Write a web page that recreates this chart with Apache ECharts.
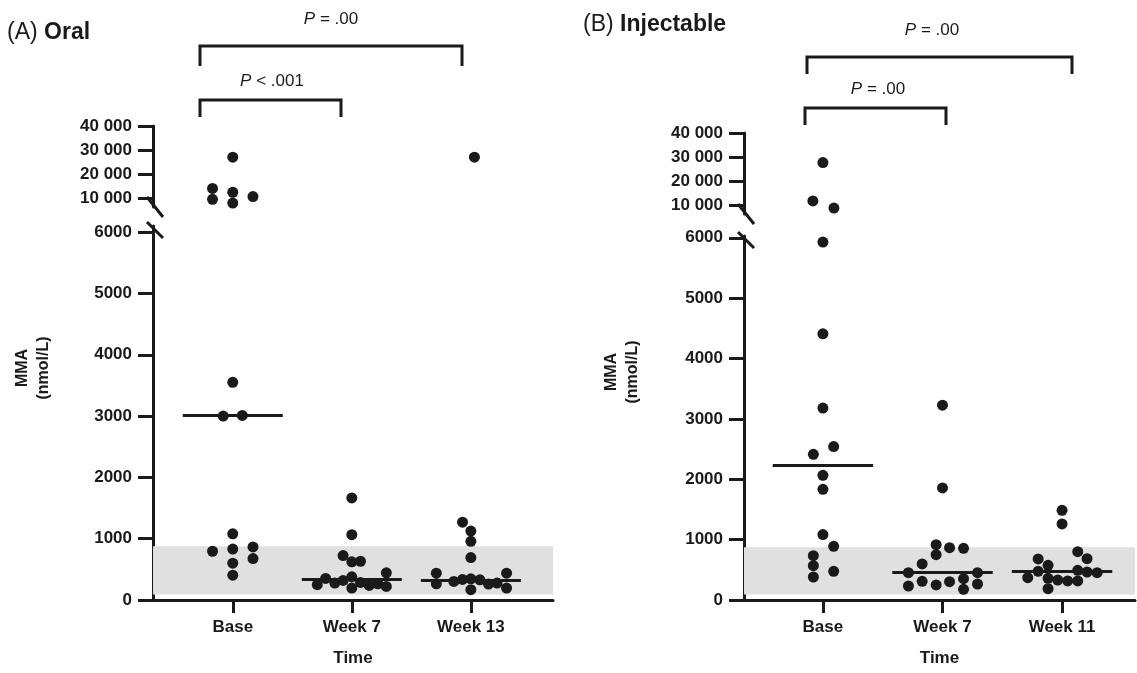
<!DOCTYPE html>
<html>
<head>
<meta charset="utf-8">
<title>MMA by time</title>
<script src="https://cdn.jsdelivr.net/npm/echarts@6/dist/echarts.min.js"></script>
<style>
  html, body { margin: 0; background: #fff; }
  #chart { width: 1137px; height: 673px; }
</style>
</head>
<body>
<div id="chart"></div>
<script>
// (A) Oral -- points are [jittered position, MMA nmol/L]
const oralCategories = ['Base', 'Week 7', 'Week 13'];
const oralBase = [
  [1, 27000], [0.83, 14000], [0.83, 9450], [1, 12400], [1, 7900], [1.17, 10600],
  [1, 3550], [0.92, 3000], [1.08, 3010], [1, 1080], [0.83, 795], [1, 830],
  [1.17, 865], [1, 600], [1.17, 676], [1, 405]
];
const oralWeek7 = [
  [2, 1665], [2, 1065], [1.927, 724], [2, 622], [2.073, 632], [1.78, 351],
  [1.71, 249], [1.857, 276], [1.927, 319], [2, 378], [2, 195], [2.073, 286],
  [2.146, 238], [2.218, 265], [2.29, 443], [2.29, 222]
];
const oralWeek13 = [
  [3.03, 27000], [2.93, 1270], [3, 1124], [3, 957], [3, 692], [2.71, 438],
  [2.71, 265], [2.857, 303], [2.93, 335], [3, 346], [3, 168], [3.076, 330],
  [3.148, 259], [3.22, 276], [3.3, 438], [3.3, 195]
];
const oralMedians = [3020, 335, 330];

// (B) Injectable
const injCategories = ['Base', 'Week 7', 'Week 11'];
const injBase = [
  [1, 27700], [0.916, 11700], [1.092, 8700], [1, 5930], [1, 4410], [1, 3180],
  [1.09, 2541], [0.92, 2414], [1, 2066], [1, 1834], [1, 1083], [1.09, 890],
  [0.92, 735], [0.92, 569], [1.09, 475], [0.92, 381]
];
const injWeek7 = [
  [2, 3227], [2, 1856], [1.947, 917], [2.059, 867], [2.176, 856], [1.947, 751],
  [1.83, 597], [1.715, 453], [2.293, 453], [1.83, 309], [1.715, 232], [1.947, 249],
  [2.059, 304], [2.176, 354], [2.293, 265], [2.176, 177]
];
const injWeek11 = [
  [3, 1486], [3, 1260], [2.8, 680], [3.131, 801], [3.209, 685], [2.883, 575],
  [2.8, 475], [3.131, 492], [3.209, 464], [3.293, 453], [2.713, 370], [2.883, 359],
  [2.964, 331], [3.047, 315], [3.131, 315], [2.883, 188]
];
const injMedians = [2240, 464, 475];

// reference range band and axis ticks
const normalRange = [90, 875];
const upperTicks = [10000, 20000, 30000, 40000];
const lowerTicks = [0, 1000, 2000, 3000, 4000, 5000, 6000];
const breakAt = 7000; // values above this go on the upper (compressed) segment

const FONT = '"Liberation Sans", Arial, Helvetica, sans-serif';
const INK = '#1a1a1a';

const panels = [
  { cats: oralCategories, groups: [oralBase, oralWeek7, oralWeek13], medians: oralMedians,
    left: 153, width: 400, xMin: 0.33, xMax: 3.69, upperTop: 126, lowerTop: 226, lowerMax: 6100 },
  { cats: injCategories, groups: [injBase, injWeek7, injWeek11], medians: injMedians,
    left: 744, width: 391, xMin: 0.34, xMax: 3.61, upperTop: 133, lowerTop: 236, lowerMax: 6030 }
];

function fmt(v) {
  return v >= 10000 ? String(v).replace(/\B(?=(\d{3})+(?!\d))/g, ' ') : String(v);
}

const grid = [], xAxis = [], yAxis = [], series = [];
const axisLine = { lineStyle: { color: INK, width: 3 } };
const tickStyle = { lineStyle: { color: INK, width: 3 } };
const labelStyle = { color: INK, fontFamily: FONT, fontWeight: 'bold', fontSize: 17 };

panels.forEach((p, i) => {
  const up = i * 2, lo = i * 2 + 1;
  grid.push({ left: p.left, top: p.upperTop, width: p.width, height: 81 });
  grid.push({ left: p.left, top: p.lowerTop, width: p.width, height: 600 - p.lowerTop });

  xAxis.push({ gridIndex: up, type: 'value', min: p.xMin, max: p.xMax, show: false });
  xAxis.push({
    gridIndex: lo, type: 'value', min: p.xMin, max: p.xMax,
    axisLine, splitLine: { show: false },
    axisTick: { customValues: [1, 2, 3], length: 13, ...tickStyle },
    axisLabel: { customValues: [1, 2, 3], formatter: v => p.cats[Math.round(v) - 1], margin: 19, ...labelStyle },
    name: 'Time', nameLocation: 'middle', nameGap: 50, nameTextStyle: labelStyle
  });

  yAxis.push({
    gridIndex: up, type: 'value', min: 6250, max: 40000,
    axisLine: { show: true, ...axisLine }, splitLine: { show: false },
    axisTick: { show: true, customValues: upperTicks, length: 15, ...tickStyle },
    axisLabel: { customValues: upperTicks, formatter: fmt, margin: 21, ...labelStyle }
  });
  yAxis.push({
    gridIndex: lo, type: 'value', min: 0, max: p.lowerMax,
    axisLine: { show: true, ...axisLine }, splitLine: { show: false },
    axisTick: { show: true, customValues: lowerTicks, length: 15, ...tickStyle },
    axisLabel: { customValues: lowerTicks, formatter: fmt, margin: 21, ...labelStyle }
  });

  const all = p.groups.flat();
  series.push({
    type: 'scatter', xAxisIndex: up, yAxisIndex: up, clip: false, z: 3,
    symbolSize: 11, itemStyle: { color: INK, opacity: 1 },
    data: all.filter(d => d[1] >= breakAt)
  });
  series.push({
    type: 'scatter', xAxisIndex: lo, yAxisIndex: lo, clip: false, z: 3,
    symbolSize: 11, itemStyle: { color: INK, opacity: 1 },
    data: all.filter(d => d[1] < breakAt),
    markArea: {
      silent: true, z: 1,
      itemStyle: { color: '#e0e0e0', borderRadius: 4 },
      data: [[{ yAxis: normalRange[0] }, { yAxis: normalRange[1] }]]
    },
    markLine: {
      silent: true, symbol: 'none', label: { show: false },
      lineStyle: { color: INK, width: 3, type: 'solid' },
      data: p.medians.map((m, k) => [{ coord: [k + 1 - 0.42, m] }, { coord: [k + 1 + 0.42, m] }])
    }
  });
});

// broken-axis slashes, brackets, titles (annotations)
const graphic = [];
function line(x1, y1, x2, y2) {
  graphic.push({ type: 'line', shape: { x1, y1, x2, y2 }, style: { stroke: INK, lineWidth: 3 }, z: 10 });
}
function bracket(x1, x2, y, legBottom) {
  graphic.push({ type: 'polyline', shape: { points: [[x1, legBottom], [x1, y], [x2, y], [x2, legBottom]] },
    style: { stroke: INK, lineWidth: 3, fill: null }, z: 10 });
}
function text(x, y, str, extra) {
  graphic.push({ type: 'text', x, y, z: 10, style: Object.assign({
    text: str, fill: INK, fontFamily: FONT, fontSize: 17, align: 'center', verticalAlign: 'middle',
    rich: { i: { fontStyle: 'italic', fontFamily: FONT, fontSize: 17, fill: INK } }
  }, extra || {}) });
}

panels.forEach(p => {
  const ax = p.left + 1, upBottom = p.upperTop + 81;
  line(ax - 7, upBottom - 10, ax + 9, upBottom + 10);
  line(ax - 7, p.lowerTop - 4, ax + 9, p.lowerTop + 12);
});

bracket(200, 462, 46, 66);
bracket(200, 341, 100, 117);
text(331, 19, '{i|P} = .00');
text(272, 81, '{i|P} < .001');

bracket(807, 1072, 57, 74);
bracket(805, 946, 108, 125);
text(932, 30, '{i|P} = .00');
text(878, 89, '{i|P} = .00');

const titleRich = { b: { fontWeight: 'bold', fontFamily: FONT, fontSize: 23, fill: INK } };
text(7, 33, '(A) {b|Oral}', { align: 'left', fontSize: 23, rich: titleRich });
text(583, 25, '(B) {b|Injectable}', { align: 'left', fontSize: 23, rich: titleRich });

// y-axis names, rotated
[[33, 368], [622, 372]].forEach(([x, y]) => {
  graphic.push({ type: 'text', x, y, rotation: Math.PI / 2, z: 10, style: {
    text: 'MMA\n(nmol/L)', fill: INK, fontFamily: FONT, fontWeight: 'bold', fontSize: 16,
    lineHeight: 21, align: 'center', verticalAlign: 'middle'
  } });
});

const chart = echarts.init(document.getElementById('chart'), null, { renderer: 'canvas' });
chart.setOption({
  animation: false,
  backgroundColor: '#fff',
  grid, xAxis, yAxis, series, graphic
});
</script>
</body>
</html>
